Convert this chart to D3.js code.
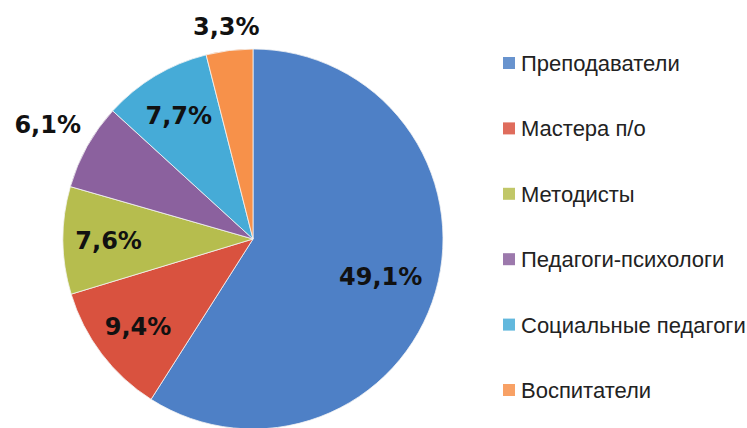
<!DOCTYPE html>
<html>
<head>
<meta charset="utf-8">
<script src="https://cdn.jsdelivr.net/npm/d3@7"></script>
<style>
body { margin:0; background:#fff; }
</style>
</head>
<body>
<div id="chart"></div>
<script>
// data
var categories = ["Преподаватели", "Мастера п/о", "Методисты", "Педагоги-психологи", "Социальные педагоги", "Воспитатели"];
var values = [49.1, 9.4, 7.6, 6.1, 7.7, 3.3];
var labels = ["49,1%", "9,4%", "7,6%", "6,1%", "7,7%", "3,3%"];
var colors = ["#4e80c6", "#d9523f", "#b6bd4e", "#8b619e", "#46abd7", "#f7914a"];

var width = 747, height = 428;
var cx = 253, cy = 239, R = 190;

var svg = d3.select("#chart").append("svg")
     .attr("width", width)
     .attr("height", height);

var g = svg.append("g")
     .attr("transform", "translate(" + cx + "," + cy + ")");

var pie = d3.pie().sort(null).value(function (d) { return d; });
var arcs = pie(values);
var arc = d3.arc().innerRadius(0).outerRadius(R);

g.selectAll("path")
     .data(arcs)
     .enter().append("path")
     .attr("d", arc)
     .attr("fill", function (d, i) { return colors[i]; })
     .attr("stroke", "#f4f4f4")
     .attr("stroke-width", 0.8);

// labels: small slices outside, others inside
g.selectAll("text.lbl")
     .data(arcs)
     .enter().append("text")
     .attr("class", "lbl")
     .attr("text-anchor", "middle")
     .attr("dy", "0.36em")
     .style("font-family", "'DejaVu Sans', sans-serif")
     .style("font-weight", "bold")
     .style("font-size", "24px")
     .style("fill", "#111")
     .text(function (d, i) { return labels[i]; })
     .attr("transform", function (d) {
          var a = (d.startAngle + d.endAngle) / 2;
          var r;
          if (d.value < 7) {
               var bb = this.getBBox();
               r = R + 12 + Math.abs(Math.sin(a)) * bb.width / 2 + Math.abs(Math.cos(a)) * 8.5;
          } else {
               r = d.value > 25 ? R * 0.7 : R * 0.76;
          }
          return "translate(" + (Math.sin(a) * r) + "," + (-Math.cos(a) * r) + ")";
     });

// legend
var ly = d3.scalePoint().domain(categories).range([63, 390]);

var leg = svg.selectAll("g.leg")
     .data(categories)
     .enter().append("g")
     .attr("class", "leg")
     .attr("transform", function (d) { return "translate(503," + ly(d) + ")"; });

leg.append("rect")
     .attr("x", 0)
     .attr("y", -6)
     .attr("width", 12)
     .attr("height", 12)
     .attr("fill", function (d, i) { return colors[i]; })
     .attr("opacity", 0.85);

leg.append("text")
     .attr("x", 18)
     .attr("dy", "0.36em")
     .style("font-family", "'Liberation Sans', Arial, sans-serif")
     .style("font-size", "22px")
     .style("fill", "#222")
     .text(function (d) { return d; });
</script>
</body>
</html>
